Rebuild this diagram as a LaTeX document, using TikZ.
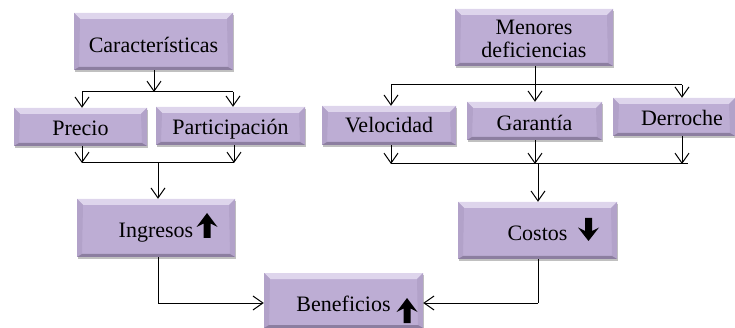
\documentclass[tikz,border=0pt]{standalone}
\usepackage{fontspec}
\setmainfont{Liberation Serif}
\usetikzlibrary{arrows.meta,shadows,calc}
\definecolor{boxfill}{RGB}{189,173,212}
\definecolor{boxlight}{RGB}{222,213,236}
\definecolor{boxdark}{RGB}{140,126,160}
\definecolor{boxside}{RGB}{178,162,201}
\newcommand{\dn}[2]{\raisebox{-#1pt}[\height][\depth]{#2}}
\tikzset{
  bev/.style={rectangle,fill=boxfill,font=\fontsize{22}{23.5}\selectfont,align=center,inner sep=0pt,
    drop shadow={shadow xshift=0.6pt,shadow yshift=-1.6pt,fill=black!55,opacity=.45},
    path picture={
      \coordinate (bl) at (path picture bounding box.south west);
      \coordinate (tr) at (path picture bounding box.north east);
      \fill[boxlight] (bl|-tr) -- (tr) -- ($(tr)+(-6pt,-6pt)$) -- ($(bl|-tr)+(6pt,-6pt)$) -- cycle;
      \fill[boxside] (bl|-tr) -- ($(bl|-tr)+(6pt,-6pt)$) -- ($(bl)+(5pt,3pt)$) -- (bl) -- cycle;
      \fill[boxside] (tr) -- ($(tr)+(-6pt,-6pt)$) -- ($(tr|-bl)+(-5pt,3pt)$) -- (tr|-bl) -- cycle;
      \fill[boxdark] (bl) -- (tr|-bl) -- ($(tr|-bl)+(-5pt,3pt)$) -- ($(bl)+(5pt,3pt)$) -- cycle;
    }},
  lin/.style={line width=1pt,black},
  arr/.style={lin,-{Straight Barb[length=10pt,width=14pt,line width=1pt]}}
}
\begin{document}
\begin{tikzpicture}[x=1pt,y=-1pt]
\useasboundingbox (0,0) rectangle (735,328);
% boxes
\node[bev,minimum width=159pt,minimum height=57pt] (car) at (153.5,41.5) {\dn{3}{Características}};
\node[bev,minimum width=133pt,minimum height=38pt] (pre) at (80.5,127) {\dn{1}{Precio}};
\node[bev,minimum width=149pt,minimum height=38pt] (par) at (230.5,126) {\dn{3}{Participación}};
\node[bev,minimum width=158pt,minimum height=57pt] (men) at (534,37.5) {\dn{1.5}{Menores}\\\dn{1.5}{deficiencias}};
\node[bev,minimum width=134pt,minimum height=39pt] (vel) at (389,125.5) {Velocidad};
\node[bev,minimum width=135pt,minimum height=38pt] (gar) at (534.5,121) {\dn{2}{Garantía}};
\node[bev,minimum width=122pt,minimum height=38pt] (der) at (674,117) {\hspace*{16pt}\dn{0.5}{Derroche}};
\node[bev,minimum width=158pt,minimum height=58pt] (ing) at (156,228) {\dn{5}{Ingresos}};
\node[bev,minimum width=159pt,minimum height=57pt] (cos) at (537.5,230.5) {\dn{2.5}{Costos}};
\node[bev,minimum width=159pt,minimum height=55pt] (ben) at (343.5,300.5) {\dn{3}{Beneficios}};
% junctions
\coordinate (b1) at (154,92);
\coordinate (b1l) at (82,92);
\coordinate (b1r) at (233,92);
\coordinate (b2l) at (82,163);
\coordinate (b2r) at (234,163);
\coordinate (b2m) at (158,163);
\coordinate (b3) at (535,85);
\coordinate (b3l) at (391,85);
\coordinate (b3r) at (682,85);
\coordinate (b4l) at (391,164);
\coordinate (b4m) at (535,164);
\coordinate (b4r) at (682,164);
\coordinate (b4e) at (688,164);
\coordinate (b4o) at (538,164);
\coordinate (c1) at (158,303);
\coordinate (c2) at (538,303);
% connectors
\draw[arr] (car.south -| b1) -- (b1);
\draw[lin] (b1l) -- (b1r);
\draw[arr] (b1l) -- (b1l |- pre.north);
\draw[arr] (b1r) -- (b1r |- par.north);
\draw[arr] (pre.south -| b2l) -- (b2l);
\draw[arr] (par.south -| b2r) -- (b2r);
\draw[lin] (b2l) -- (b2r);
\draw[arr] (b2m) -- (b2m |- ing.north);
\draw[arr] (men.south -| b3) -- (b3 |- gar.north);
\draw[lin] (b3l) -- (b3r);
\draw[arr] (b3l) -- (b3l |- vel.north);
\draw[arr] (b3r) -- (b3r |- der.north);
\draw[arr] (vel.south -| b4l) -- (b4l);
\draw[arr] (gar.south -| b4m) -- (b4m);
\draw[arr] (der.south -| b4r) -- (b4r);
\draw[lin] (b4l) -- (b4e);
\draw[arr] (b4o) -- (b4o |- cos.north);
\draw[lin] (ing.south -| c1) -- (c1);
\draw[arr] (c1) -- (c1 -| ben.west);
\draw[lin] (cos.south -| c2) -- (c2);
\draw[arr] (c2) -- (c2 -| ben.east);
% direction arrows
\fill (207,213) -- (217.5,227) -- (210.5,223.5) -- (210.5,238) -- (203.5,238) -- (203.5,223.5) -- (196.5,227) -- cycle;
\fill (588.5,241) -- (578,227.5) -- (585,231) -- (585,218) -- (592,218) -- (592,231) -- (599,227.5) -- cycle;
\fill (407,298) -- (417.5,312) -- (410.5,308.5) -- (410.5,323) -- (403.5,323) -- (403.5,308.5) -- (396.5,312) -- cycle;
\end{tikzpicture}
\end{document}
